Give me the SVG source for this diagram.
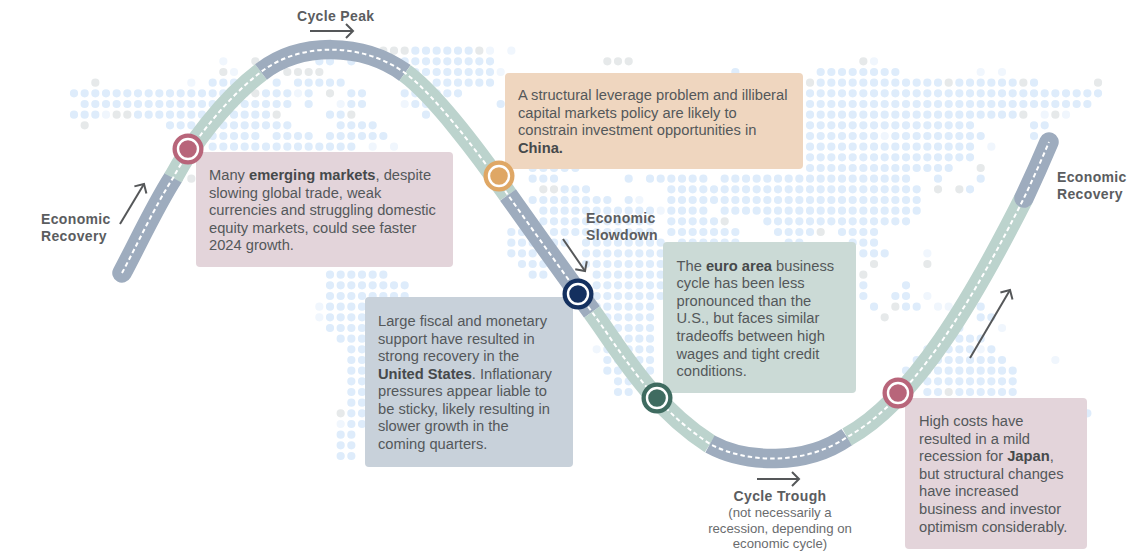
<svg xmlns="http://www.w3.org/2000/svg" width="1141" height="555" viewBox="0 0 1141 555">
<style>
text{font-family:"Liberation Sans",Arial,sans-serif}
.b{font-size:14.7px;fill:#54585a}
.b tspan.s{font-weight:bold;fill:#46494b}
.l{font-size:14px;font-weight:bold;fill:#5b5d5f;letter-spacing:.35px}
.n{font-size:13.2px;fill:#6a6c6e;text-anchor:middle}
.d{fill:none;stroke-width:.77;stroke-linecap:round;stroke-dasharray:0 1}
.bl{stroke:#deecfb}.gr{stroke:#e6e9ea}.fa{stroke:#f0f6fd}
.seg{fill:none;stroke-width:19.5}
.sb{stroke:#9eacbe}.sg{stroke:#bcd3cd}
.ar{fill:none;stroke:#555759;stroke-width:2;marker-end:url(#h)}
.ring{fill:none;stroke:#fff;stroke-width:2.4}
</style>
<defs>
<marker id="h" markerUnits="userSpaceOnUse" markerWidth="16" markerHeight="18" refX="12" refY="9" orient="auto"><path d="M5 2L12 9L5 16" fill="none" stroke="#555759" stroke-width="2"/></marker>
</defs>
<g id="map" transform="translate(74 50.67) scale(10.667)">
<path class="d bl" d="M32 0H37.01M23 1H24.01M26 1H26.01M31 1H39.01M32 2H39.01M62 2H62.01M70 2H77.01M13 3H15.01M19 3H19.01M21 3H25.01M34 3H39.01M70 3H81.01M83 3H88.01M90 3H90.01M0 4H16.01M18 4H20.01M22 4H22.01M26 4H27.01M31 4H36.01M69 4H96.01M1 5H20.01M22 5H22.01M26 5H27.01M32 5H33.01M40 5H40.01M69 5H95.01M0 6H2.01M6 6H18.01M24 6H25.01M33 6H33.01M69 6H88.01M9 7H20.01M25 7H28.01M69 7H84.01M90 7H91.01M13 8H17.01M19 8H22.01M24 8H29.01M69 8H75.01M77 8H85.01M90 8H90.01M13 9H26.01M69 9H84.01M69 10H84.01M43 11H47.01M69 11H82.01M43 12H45.01M52 12H52.01M54 12H59.01M61 12H78.01M81 12H81.01M85 12H85.01M46 13H48.01M56 13H79.01M84 13H84.01M43 14H50.01M52 14H52.01M56 14H79.01M44 15H54.01M56 15H59.01M61 15H79.01M44 16H54.01M56 16H60.01M65 16H78.01M41 17H43.01M45 17H54.01M56 17H62.01M66 17H69.01M72 17H75.01M41 18H46.01M48 18H55.01M57 18H62.01M67 18H68.01M73 18H75.01M41 19H44.01M48 19H55.01M74 19H76.01M42 20H44.01M48 20H55.01M24 21H29.01M43 21H44.01M49 21H55.01M24 22H31.01M49 22H55.01M74 22H74.01M78 22H78.01M24 23H31.01M49 23H55.01M74 23H74.01M77 23H78.01M24 24H27.01M49 24H54.01M75 24H75.01M78 24H79.01M83 24H85.01M24 25H27.01M49 25H54.01M85 25H86.01M24 26H27.01M51 26H54.01M83 26H83.01M25 27H27.01M51 27H54.01M82 27H85.01M26 28H27.01M50 28H54.01M80 28H84.01M86 28H86.01M26 29H27.01M50 29H54.01M79 29H87.01M26 30H27.01M50 30H54.01M78 30H88.01M26 31H27.01M51 31H52.01M78 31H88.01M26 32H27.01M51 32H52.01M80 32H81.01M83 32H88.01M26 33H27.01M26 34H27.01M95 34H95.01M26 35H27.01M25 36H26.01M25 37H26.01M25 38H26.01"/>
<path class="d gr" d="M29 0H31.01M38 0H38.01M17 1H17.01M50 1H52.01M74 1H74.01M14 2H14.01M20 2H23.01M2 3H2.01M69 3H69.01M82 3H82.01M89 3H89.01M96 3H96.01M17 4H17.01M24 4H24.01M4 6H5.01M19 6H19.01M26 6H26.01M89 6H89.01M92 6H92.01M1 7H1.01M85 11H85.01M11 12H11.01M44 13H45.01M81 13H81.01M83 13H83.01M61 16H61.01M70 17H70.01M75 20H75.01M80 20H80.01M74 21H74.01M77 24H77.01M76 25H76.01M82 32H82.01M25 34H25.01"/>
<path class="d fa" d="M39 0H39.01M41 0H41.01M14 1H14.01M75 1H75.01M15 2H15.01M40 2H40.01M85 2H85.01M87 2H87.01M11 3H11.01M21 4H21.01M25 5H25.01M31 5H31.01M3 6H3.01M91 6H91.01M93 6H93.01M76 8H76.01M28 9H28.01M30 9H30.01M86 9H86.01M53 14H53.01M55 15H55.01M80 19H80.01M80 23H80.01M81 24H82.01M23 24H23.01M23 25H23.01M87 26H87.01M49 28H49.01M85 28H85.01M92 29H92.01M25 35H25.01"/>
</g>
<g id="connectors">
<path class="seg sb" stroke-linecap="round" d="M122 273C137 245 155 206 173 178"/>
<path class="seg sg" d="M173 178C190 146 224 100 261 72"/>
<path class="seg sb" d="M261 72C300 42 362 42 405 73"/>
<path class="seg sg" d="M405 73C435 95 480 155 508 195"/>
<path class="seg sb" d="M508 195C535 233 565 275 592 312"/>
<path class="seg sg" d="M592 312C620 350 650 405 710 444"/>
<path class="seg sb" d="M710 444C745 463 805 466 847 437"/>
<path class="seg sg" d="M847 437C915 400 975 295 1024 198"/>
<path class="seg sb" stroke-linecap="round" d="M1024 198C1032 181 1041 161 1049 142"/>
<path id="centerline" fill="none" stroke="#fff" stroke-width="2" stroke-dasharray="4.5 3" d="M122 273C137 245 155 206 173 178C190 146 224 100 261 72C300 42 362 42 405 73C435 95 480 155 508 195C535 233 565 275 592 312C620 350 650 405 710 444C745 463 805 466 847 437C915 400 975 295 1024 198C1032 181 1041 161 1049 142"/>
<path class="ar" d="M120 224L144 184"/>
<path class="ar" d="M310 31H353"/>
<path class="ar" d="M563 239L585 271"/>
<path class="ar" d="M757 479H799"/>
<path class="ar" d="M970 358L1010 290"/>
</g>
<g id="node-emerging">
<rect x="196" y="152" width="257" height="115" rx="4" fill="#e3d4da"/>
<circle cx="188" cy="149" r="15.5" fill="#b8657a"/><circle class="ring" cx="188" cy="149" r="10"/>
<text class="b"><tspan x="209" y="180">Many <tspan class="s">emerging markets</tspan>, despite</tspan><tspan x="209" y="197.5">slowing global trade, weak</tspan><tspan x="209" y="215">currencies and struggling domestic</tspan><tspan x="209" y="232.5">equity markets, could see faster</tspan><tspan x="209" y="250">2024 growth.</tspan></text>
</g>
<g id="node-china">
<rect x="505" y="73" width="298" height="96" rx="4" fill="#efd6bf"/>
<circle cx="499" cy="176" r="15.5" fill="#dfa765"/><circle class="ring" cx="499" cy="176" r="10"/>
<text class="b"><tspan x="518" y="100">A structural leverage problem and illiberal</tspan><tspan x="518" y="117.5">capital markets policy are likely to</tspan><tspan x="518" y="135">constrain investment opportunities in</tspan><tspan x="518" y="152.7" class="s">China.</tspan></text>
</g>
<g id="node-us">
<rect x="365" y="297" width="208" height="170" rx="4" fill="#c8d1da"/>
<circle cx="578" cy="294" r="15.5" fill="#14305f"/><circle class="ring" cx="578" cy="294" r="10"/>
<text class="b"><tspan x="378" y="326">Large fiscal and monetary</tspan><tspan x="378" y="343.6">support have resulted in</tspan><tspan x="378" y="361.1">strong recovery in the</tspan><tspan x="378" y="378.7"><tspan class="s">United States</tspan>. Inflationary</tspan><tspan x="378" y="396.3">pressures appear liable to</tspan><tspan x="378" y="413.9">be sticky, likely resulting in</tspan><tspan x="378" y="431.4">slower growth in the</tspan><tspan x="378" y="449">coming quarters.</tspan></text>
</g>
<g id="node-euro">
<rect x="663" y="242" width="193" height="151" rx="4" fill="#cbdad6"/>
<circle cx="657" cy="398" r="15.5" fill="#3f6b60"/><circle class="ring" cx="657" cy="398" r="10"/>
<text class="b"><tspan x="676.5" y="270.7">The <tspan class="s">euro area</tspan> business</tspan><tspan x="676.5" y="288.3">cycle has been less</tspan><tspan x="676.5" y="305.9">pronounced than the</tspan><tspan x="676.5" y="323.4">U.S., but faces similar</tspan><tspan x="676.5" y="341">tradeoffs between high</tspan><tspan x="676.5" y="358.6">wages and tight credit</tspan><tspan x="676.5" y="376.2">conditions.</tspan></text>
</g>
<g id="node-japan">
<rect x="905" y="398" width="182" height="151" rx="4" fill="#e3d4da"/>
<circle cx="898" cy="393" r="15.5" fill="#b8657a"/><circle class="ring" cx="898" cy="393" r="10"/>
<text class="b"><tspan x="919" y="426">High costs have</tspan><tspan x="919" y="443.6">resulted in a mild</tspan><tspan x="919" y="461.2">recession for <tspan class="s">Japan</tspan>,</tspan><tspan x="919" y="478.8">but structural changes</tspan><tspan x="919" y="496.4">have increased</tspan><tspan x="919" y="514">business and investor</tspan><tspan x="919" y="531.6">optimism considerably.</tspan></text>
</g>
<g id="label-recovery-left"><text class="l"><tspan x="41" y="223.5">Economic</tspan><tspan x="41" y="240.8">Recovery</tspan></text></g>
<g id="label-peak"><text class="l" x="297" y="20.7">Cycle Peak</text></g>
<g id="label-slowdown"><text class="l"><tspan x="586" y="222.7">Economic</tspan><tspan x="586" y="240">Slowdown</tspan></text></g>
<g id="label-recovery-right"><text class="l"><tspan x="1057" y="182">Economic</tspan><tspan x="1057" y="199">Recovery</tspan></text></g>
<g id="label-trough"><text class="l" x="780" y="500.7" text-anchor="middle">Cycle Trough</text>
<text class="n"><tspan x="780" y="516.7">(not necessarily a</tspan><tspan x="780" y="532.5">recession, depending on</tspan><tspan x="780" y="547.7">economic cycle)</tspan></text></g>
</svg>
